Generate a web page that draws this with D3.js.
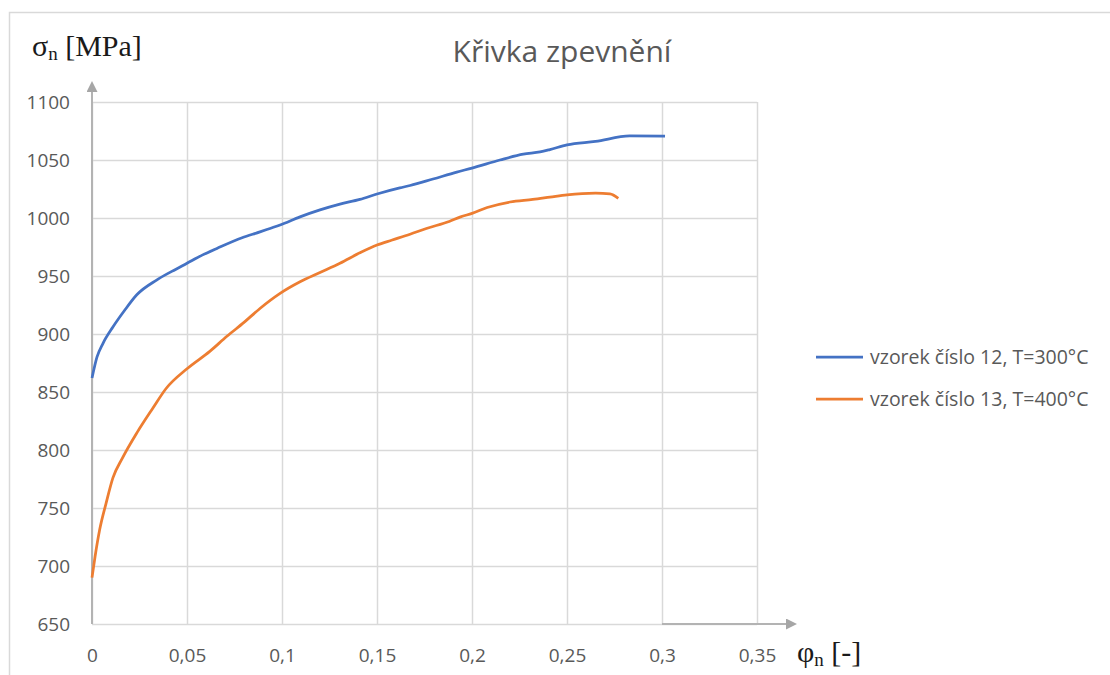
<!DOCTYPE html>
<html>
<head>
<meta charset="utf-8">
<script src="https://cdn.jsdelivr.net/npm/d3@7"></script>
<style>
  body { margin: 0; background: #fff; }
  text { font-family: "Open Sans", "Noto Sans", sans-serif; }
  .serif { font-family: "Liberation Serif", "DejaVu Serif", serif; }
</style>
</head>
<body>
<div id="container"></div>
<script>
/* CONSTANTS AND GLOBALS */
const width = 1110,
  height = 675,
  margin = { top: 102, bottom: 51, left: 92, right: 353 };

/* DATA */
const xTicks = [0, 0.05, 0.1, 0.15, 0.2, 0.25, 0.3, 0.35]
const yTicks = [650, 700, 750, 800, 850, 900, 950, 1000, 1050, 1100]

const seriesNames = ["vzorek číslo 12, T=300°C", "vzorek číslo 13, T=400°C"]

// vzorek 12, T=300°C
const strain12 = [0, 0.0026, 0.0058, 0.011, 0.017, 0.0237, 0.034, 0.042, 0.05, 0.058, 0.066, 0.079, 0.0884, 0.0937, 0.099, 0.1095, 0.12, 0.1305, 0.141, 0.15, 0.162, 0.1674, 0.1795, 0.192, 0.2, 0.2147, 0.227, 0.2358, 0.241, 0.25, 0.265, 0.283, 0.3016]
const stress12 = [862, 880, 892, 906, 920, 934, 946.5, 954, 961, 968, 974, 983, 988, 991, 994, 1001, 1007, 1012, 1016, 1020.7, 1026, 1028, 1033.6, 1039.6, 1043, 1050, 1055, 1057, 1059, 1063, 1066, 1070.7, 1070.5]

// vzorek 13, T=400°C
const strain13 = [0, 0.0016, 0.004, 0.0074, 0.011, 0.016, 0.0237, 0.032, 0.039, 0.05, 0.062, 0.071, 0.08, 0.0884, 0.099, 0.1095, 0.12, 0.1305, 0.141, 0.15, 0.158, 0.1674, 0.176, 0.188, 0.194, 0.2, 0.208, 0.22, 0.232, 0.241, 0.25, 0.265, 0.2726, 0.277]
const stress13 = [690, 708, 731, 754, 776, 793, 815, 836, 853, 870, 885, 898, 910, 922, 935, 945, 953, 961, 970, 976.7, 981, 986, 991, 997, 1001, 1004, 1009, 1013.8, 1016, 1018, 1020, 1021.5, 1020.7, 1017]

const colors = ["#4472C4", "#ED7D31"]

const series = [
  strain12.map((x, i) => ({ x, y: stress12[i] })),
  strain13.map((x, i) => ({ x, y: stress13[i] }))
]

// czech number format (decimal comma)
const cz = d3.formatLocale({ decimal: ",", thousands: " ", grouping: [3], currency: ["", " Kč"] })
const fmt = cz.format("~g")

/* SCALES */
const xScale = d3.scaleLinear()
  .domain([0, 0.35])
  .range([margin.left, width - margin.right])

const yScale = d3.scaleLinear()
  .domain([650, 1100])
  .range([height - margin.bottom, margin.top])

/* CREATE SVG ELEMENT */
const svg = d3.select("#container")
  .append("svg")
  .attr("width", width)
  .attr("height", height)

// outer frame (only top + left visible)
svg.append("path")
  .attr("d", `M9.5,${height} V12.5 H${width}`)
  .attr("fill", "none")
  .attr("stroke", "#d9d9d9")
  .attr("stroke-width", 1.5)

svg.append("defs").append("marker")
  .attr("id", "arrow")
  .attr("viewBox", "0 0 10 10")
  .attr("refX", 0)
  .attr("refY", 5)
  .attr("markerWidth", 15)
  .attr("markerHeight", 11)
  .attr("markerUnits", "userSpaceOnUse")
  .attr("orient", "auto")
  .append("path")
  .attr("d", "M0,0 L10,5 L0,10 Z")
  .attr("fill", "#a6a6a6")

/* AXES + GRID */
const yAxis = d3.axisLeft(yScale)
  .tickValues(yTicks)
  .tickSize(-(width - margin.left - margin.right))
  .tickPadding(22)
  .tickFormat(fmt)

const yAxisGroup = svg.append("g")
  .attr("class", "yAxis")
  .attr("transform", `translate(${margin.left}, 0)`)
  .call(yAxis)

const xAxis = d3.axisBottom(xScale)
  .tickValues(xTicks)
  .tickSize(-(height - margin.top - margin.bottom))
  .tickPadding(25)
  .tickFormat(fmt)

const xAxisGroup = svg.append("g")
  .attr("class", "xAxis")
  .attr("transform", `translate(0, ${height - margin.bottom})`)
  .call(xAxis)

svg.selectAll(".xAxis .domain, .yAxis .domain").remove()
svg.selectAll(".tick line")
  .attr("stroke", "#d9d9d9")
  .attr("stroke-width", 1.5)
svg.selectAll(".tick text")
  .attr("fill", "#595959")
  .style("font-size", "19px")

// axis arrows
svg.append("line")
  .attr("x1", xScale(0)).attr("x2", xScale(0))
  .attr("y1", yScale(650)).attr("y2", 92)
  .attr("stroke", "#b3b3b3")
  .attr("stroke-width", 2)
  .attr("marker-end", "url(#arrow)")

svg.append("line")
  .attr("x1", xScale(0.3)).attr("x2", 786)
  .attr("y1", yScale(650)).attr("y2", yScale(650))
  .attr("stroke", "#b3b3b3")
  .attr("stroke-width", 2)
  .attr("marker-end", "url(#arrow)")

/* LINES */
const lineGen = d3.line()
  .x(d => xScale(d.x))
  .y(d => yScale(d.y))
  .curve(d3.curveMonotoneX)

svg.selectAll(".trend")
  .data(series)
  .join("path")
  .attr("class", "trend")
  .attr("fill", "none")
  .attr("stroke", (d, i) => colors[i])
  .attr("stroke-width", 2.75)
  .attr("stroke-linejoin", "round")
  .attr("d", d => lineGen(d))

/* TITLE */
svg.append("text")
  .attr("x", 562)
  .attr("y", 62)
  .attr("text-anchor", "middle")
  .attr("fill", "#595959")
  .style("font-size", "30px")
  .text("Křivka zpevnění")

/* AXIS LABELS */
const yLabel = svg.append("text")
  .attr("class", "serif")
  .attr("x", 32)
  .attr("y", 56)
  .attr("fill", "#1a1a1a")
  .style("font-size", "30px")
yLabel.append("tspan").text("σ")
yLabel.append("tspan").attr("dy", 4).style("font-size", "19px").text("n")
yLabel.append("tspan").attr("dy", -4).text(" [MPa]")

const xLabel = svg.append("text")
  .attr("class", "serif")
  .attr("x", 797)
  .attr("y", 662)
  .attr("fill", "#1a1a1a")
  .style("font-size", "30px")
xLabel.append("tspan").text("φ")
xLabel.append("tspan").attr("dy", 4).style("font-size", "19px").text("n")
xLabel.append("tspan").attr("dy", -4).text(" [-]")

/* LEGEND */
const legend = svg.selectAll(".legend")
  .data(seriesNames)
  .join("g")
  .attr("class", "legend")
  .attr("transform", (d, i) => `translate(816, ${357 + i * 42})`)

legend.append("line")
  .attr("x1", 0).attr("x2", 47)
  .attr("stroke", (d, i) => colors[i])
  .attr("stroke-width", 2.75)

legend.append("text")
  .attr("x", 54)
  .attr("dy", "0.35em")
  .attr("fill", "#595959")
  .style("font-size", "19.5px")
  .text(d => d)
</script>
</body>
</html>
